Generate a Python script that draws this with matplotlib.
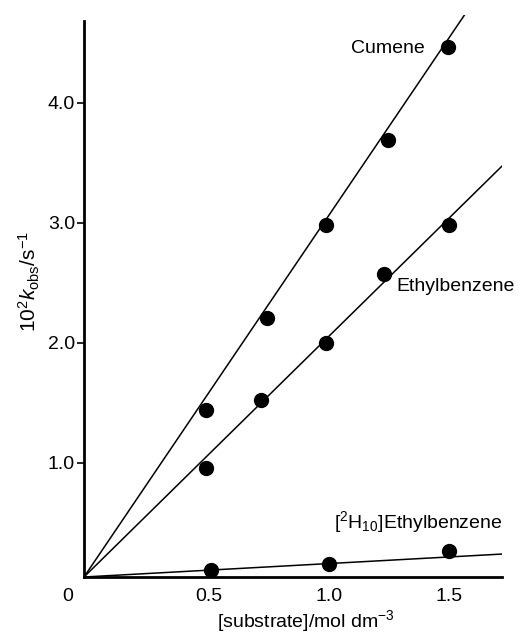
import numpy as np
import matplotlib
matplotlib.use('Agg')
import matplotlib.pyplot as plt

plt.rcParams['font.family'] = ['Liberation Sans', 'DejaVu Sans']
plt.rcParams['mathtext.fontset'] = 'custom'
plt.rcParams['mathtext.rm'] = 'Liberation Sans'
plt.rcParams['mathtext.it'] = 'Liberation Sans:italic'
plt.rcParams['mathtext.bf'] = 'Liberation Sans:bold'

# data
conc_cumene = [0.49, 0.745, 0.99, 1.245, 1.495]
k_cumene = [1.44, 2.21, 2.98, 3.69, 4.46]
conc_ethyl = [0.49, 0.72, 0.99, 1.23, 1.50]
k_ethyl = [0.96, 1.52, 2.00, 2.57, 2.98]
conc_d10 = [0.51, 1.00, 1.50]
k_d10 = [0.11, 0.16, 0.27]

# slopes of the drawn lines (all start at the axes corner)
slope_cumene = 2.96
slope_ethyl = 1.97
slope_d10 = 0.11

fig = plt.figure(figsize=(5.28, 6.37), dpi=100)
ax = fig.add_axes([84/528, 1 - 577/637, 418/528, (577 - 15)/637])

xmin, xmax = -0.017, 1.72
ymin, ymax = 0.05, 4.73
xx = np.linspace(xmin, xmax, 50)

for s in [slope_cumene, slope_ethyl, slope_d10]:
    ax.plot(xx, ymin + s * (xx - xmin), color='black', lw=1.1)

ax.plot(conc_cumene, k_cumene, 'o', color='black', ms=10)
ax.plot(conc_ethyl, k_ethyl, 'o', color='black', ms=10)
ax.plot(conc_d10, k_d10, 'o', color='black', ms=10)

ax.set_xlim(xmin, xmax)
ax.set_ylim(ymin, ymax)

ax.spines['top'].set_visible(False)
ax.spines['right'].set_visible(False)
ax.spines['left'].set_linewidth(2)
ax.spines['bottom'].set_linewidth(2)
ax.spines['left'].set_bounds(ymin, 4.68)

ax.set_xticks([0.5, 1.0, 1.5])
ax.set_xticklabels(['0.5', '1.0', '1.5'])
ax.set_yticks([1.0, 2.0, 3.0, 4.0])
ax.set_yticklabels(['1.0', '2.0', '3.0', '4.0'])
ax.tick_params(axis='x', length=0, pad=8, labelsize=14)
ax.tick_params(axis='y', length=5, width=1.2, pad=1.5, labelsize=14)

ax.text(-0.038, -0.034, '0', transform=ax.transAxes, ha='center', va='center', fontsize=14)

ax.set_xlabel('[substrate]/mol dm$^{-3}$', fontsize=14)
ax.xaxis.set_label_coords(0.53, -0.055)
ax.set_ylabel(r'10$^2$$\mathit{k}_\mathrm{obs}$/s$^{-1}$', fontsize=15)
ax.yaxis.set_label_coords(-0.1, 0.526)

ax.text(1.40, 4.45, 'Cumene', ha='right', va='center', fontsize=14)
ax.text(1.28, 2.47, 'Ethylbenzene', ha='left', va='center', fontsize=14)
ax.text(1.72, 0.51, r'[$^2$H$_{10}$]Ethylbenzene', ha='right', va='center', fontsize=14)

fig.savefig('out.png', dpi=100)
